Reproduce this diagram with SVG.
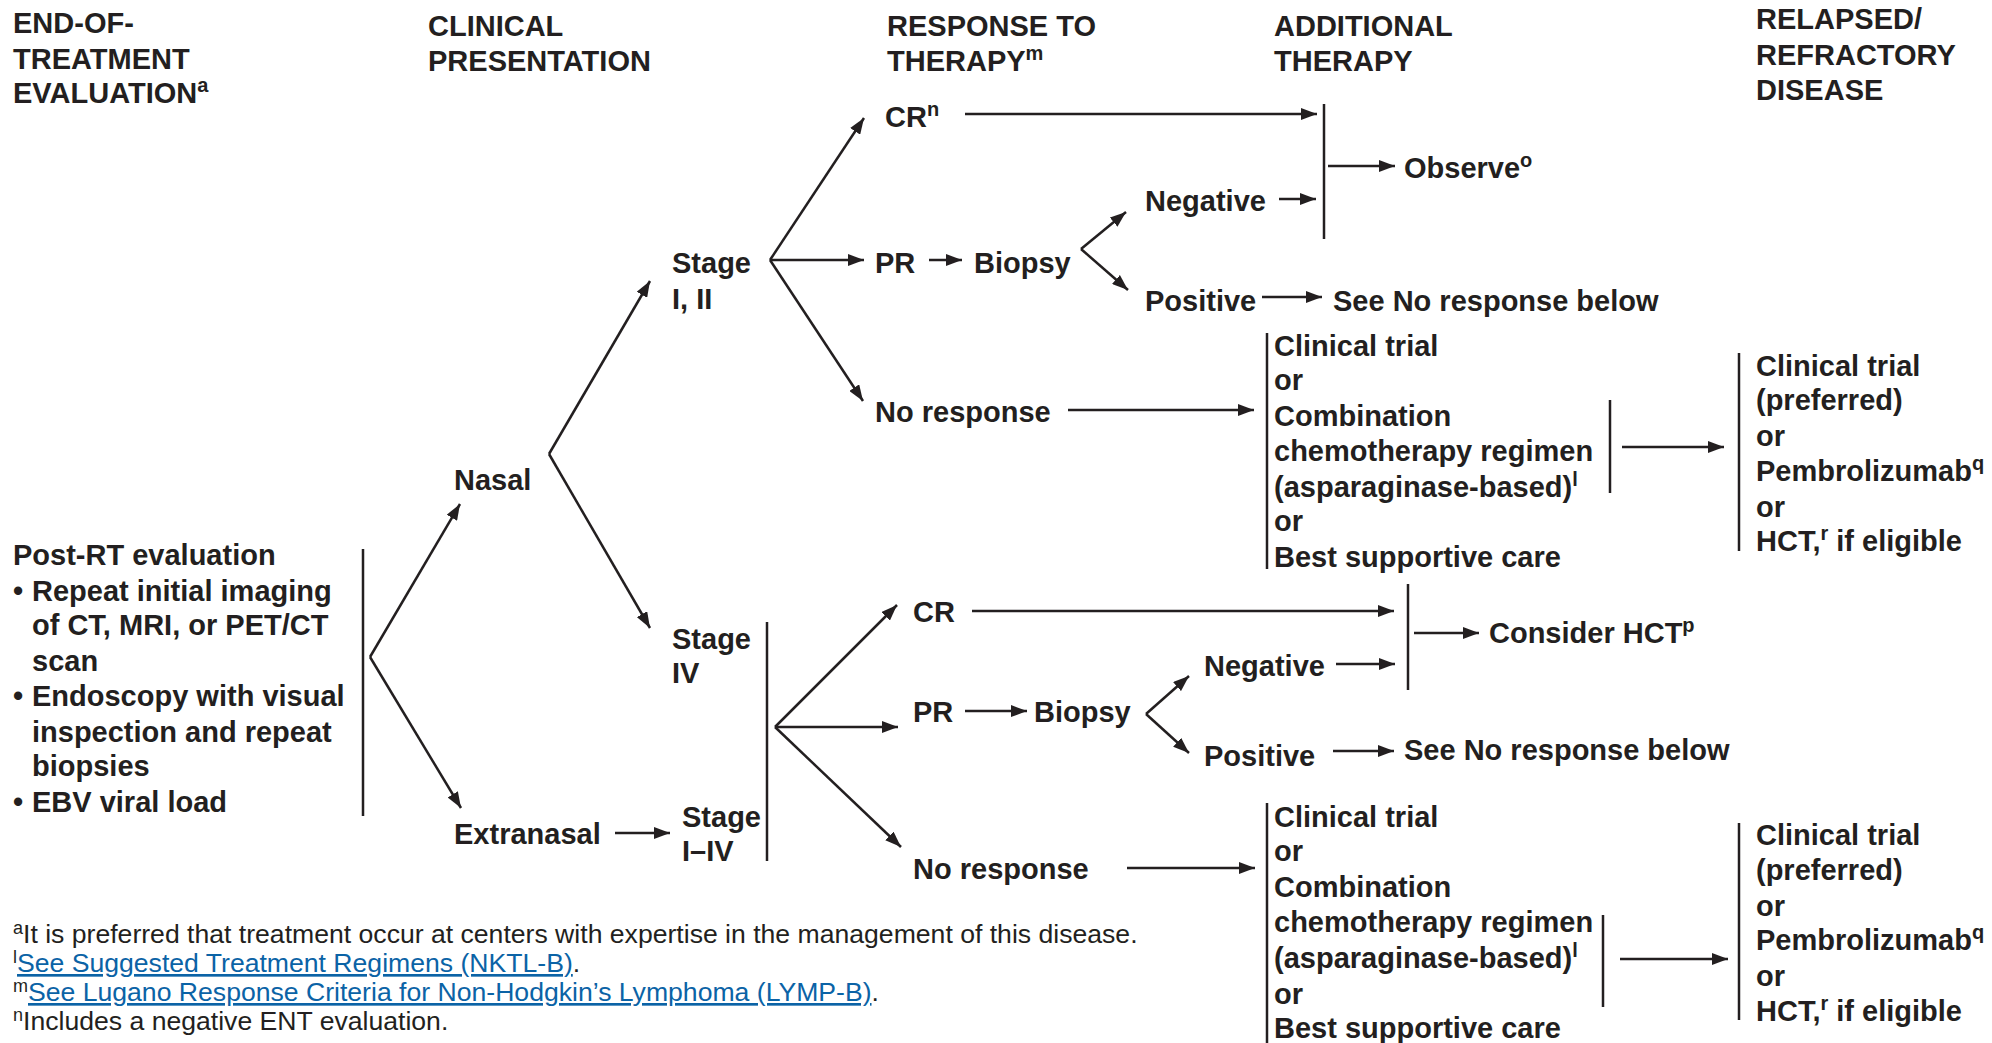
<svg xmlns="http://www.w3.org/2000/svg" width="1992" height="1043" viewBox="0 0 1992 1043">
  <style>
    text { font-family: "Liberation Sans", Arial, sans-serif; fill: #231f20; }
    .b { font-size: 29px; font-weight: bold; }
    .sup { font-size: 20px; }
    .fn { font-size: 26.6px; font-weight: normal; }
    .fns { font-size: 18px; }
    .link { fill: #0b63a6; text-decoration: underline; }
    .ln { stroke: #231f20; stroke-width: 2.5; fill: none; }
    .ar { stroke: #231f20; stroke-width: 2.5; fill: none; marker-end: url(#head); }
  </style>
  <defs>
    <marker id="head" viewBox="0 0 16 12" refX="16" refY="6" markerWidth="16" markerHeight="12" markerUnits="userSpaceOnUse" orient="auto">
      <path d="M0,0 L16,6 L0,12 z" fill="#231f20"/>
    </marker>
  </defs>
  <rect width="1992" height="1043" fill="#ffffff"/>

  <!-- column headings -->
  <g id="hdr-eval" class="b">
    <text x="13" y="33">END-OF-</text>
    <text x="13" y="69">TREATMENT</text>
    <text x="13" y="103">EVALUATION<tspan class="sup" dy="-11">a</tspan></text>
  </g>
  <g id="hdr-clinical" class="b">
    <text x="428" y="36">CLINICAL</text>
    <text x="428" y="71">PRESENTATION</text>
  </g>
  <g id="hdr-response" class="b">
    <text x="887" y="36">RESPONSE TO</text>
    <text x="887" y="71">THERAPY<tspan class="sup" dy="-11">m</tspan></text>
  </g>
  <g id="hdr-additional" class="b">
    <text x="1274" y="36">ADDITIONAL</text>
    <text x="1274" y="71">THERAPY</text>
  </g>
  <g id="hdr-relapsed" class="b">
    <text x="1756" y="29">RELAPSED/</text>
    <text x="1756" y="65">REFRACTORY</text>
    <text x="1756" y="100">DISEASE</text>
  </g>

  <!-- evaluation -->
  <g id="post-rt" class="b">
    <text x="13" y="565">Post-RT evaluation</text>
    <text x="13" y="601">•</text><text x="32" y="601">Repeat initial imaging</text>
    <text x="32" y="635">of CT, MRI, or PET/CT</text>
    <text x="32" y="671">scan</text>
    <text x="13" y="706">•</text><text x="32" y="706">Endoscopy with visual</text>
    <text x="32" y="742">inspection and repeat</text>
    <text x="32" y="776">biopsies</text>
    <text x="13" y="812">•</text><text x="32" y="812">EBV viral load</text>
  </g>

  <!-- presentation -->
  <g id="nasal" class="b"><text x="454" y="490">Nasal</text></g>
  <g id="extranasal" class="b"><text x="454" y="844">Extranasal</text></g>
  <g id="stage-1-2" class="b"><text x="672" y="273">Stage</text><text x="672" y="309">I, II</text></g>
  <g id="stage-4" class="b"><text x="672" y="649">Stage</text><text x="672" y="683">IV</text></g>
  <g id="stage-1-4" class="b"><text x="682" y="827">Stage</text><text x="682" y="861">I–IV</text></g>

  <!-- stage I, II responses -->
  <g id="cr-a" class="b"><text x="885" y="127">CR<tspan class="sup" dy="-11">n</tspan></text></g>
  <g id="pr-a" class="b"><text x="875" y="273">PR</text></g>
  <g id="biopsy-a" class="b"><text x="974" y="273">Biopsy</text></g>
  <g id="negative-a" class="b"><text x="1145" y="211">Negative</text></g>
  <g id="positive-a" class="b"><text x="1145" y="311">Positive</text></g>
  <g id="see-below-a" class="b"><text x="1333" y="311">See No response below</text></g>
  <g id="observe" class="b"><text x="1404" y="178">Observe<tspan class="sup" dy="-11">o</tspan></text></g>
  <g id="no-response-a" class="b"><text x="875" y="422">No response</text></g>
  <g id="additional-a" class="b">
    <text x="1274" y="356">Clinical trial</text>
    <text x="1274" y="390">or</text>
    <text x="1274" y="426">Combination</text>
    <text x="1274" y="461">chemotherapy regimen</text>
    <text x="1274" y="497">(asparaginase-based)<tspan class="sup" dy="-11">l</tspan></text>
    <text x="1274" y="531">or</text>
    <text x="1274" y="567">Best supportive care</text>
  </g>
  <g id="relapsed-a" class="b">
    <text x="1756" y="376">Clinical trial</text>
    <text x="1756" y="410">(preferred)</text>
    <text x="1756" y="446">or</text>
    <text x="1756" y="481">Pembrolizumab<tspan class="sup" dy="-11">q</tspan></text>
    <text x="1756" y="517">or</text>
    <text x="1756" y="551">HCT,<tspan class="sup" dy="-11">r</tspan><tspan dy="11"> if eligible</tspan></text>
  </g>

  <!-- stage IV / I–IV responses -->
  <g id="cr-b" class="b"><text x="913" y="622">CR</text></g>
  <g id="pr-b" class="b"><text x="913" y="722">PR</text></g>
  <g id="biopsy-b" class="b"><text x="1034" y="722">Biopsy</text></g>
  <g id="negative-b" class="b"><text x="1204" y="676">Negative</text></g>
  <g id="positive-b" class="b"><text x="1204" y="766">Positive</text></g>
  <g id="see-below-b" class="b"><text x="1404" y="760">See No response below</text></g>
  <g id="consider-hct" class="b"><text x="1489" y="643">Consider HCT<tspan class="sup" dy="-11">p</tspan></text></g>
  <g id="no-response-b" class="b"><text x="913" y="879">No response</text></g>
  <g id="additional-b" class="b">
    <text x="1274" y="827">Clinical trial</text>
    <text x="1274" y="861">or</text>
    <text x="1274" y="897">Combination</text>
    <text x="1274" y="932">chemotherapy regimen</text>
    <text x="1274" y="968">(asparaginase-based)<tspan class="sup" dy="-11">l</tspan></text>
    <text x="1274" y="1004">or</text>
    <text x="1274" y="1038">Best supportive care</text>
  </g>
  <g id="relapsed-b" class="b">
    <text x="1756" y="845">Clinical trial</text>
    <text x="1756" y="880">(preferred)</text>
    <text x="1756" y="916">or</text>
    <text x="1756" y="950">Pembrolizumab<tspan class="sup" dy="-11">q</tspan></text>
    <text x="1756" y="986">or</text>
    <text x="1756" y="1021">HCT,<tspan class="sup" dy="-11">r</tspan><tspan dy="11"> if eligible</tspan></text>
  </g>

  <!-- connectors and brackets -->
  <g id="connectors">
    <!-- evaluation fork -->
    <line class="ln" x1="363" y1="549" x2="363" y2="816"/>
    <path class="ar" d="M370,657 L460,504"/>
    <path class="ar" d="M370,657 L461,808"/>
    <!-- nasal fork -->
    <path class="ar" d="M549,454 L650,281"/>
    <path class="ar" d="M549,454 L650,628"/>
    <!-- extranasal -->
    <path class="ar" d="M615,833 L670,833"/>
    <!-- stage I, II fork -->
    <path class="ar" d="M770,260 L864,118"/>
    <path class="ar" d="M770,260 L864,260"/>
    <path class="ar" d="M770,260 L863,401"/>
    <path class="ar" d="M965,114 L1317,114"/>
    <path class="ar" d="M929,260 L962,260"/>
    <path class="ar" d="M1081,249 L1126,212"/>
    <path class="ar" d="M1081,249 L1128,290"/>
    <path class="ar" d="M1279,199 L1316,199"/>
    <line class="ln" x1="1324" y1="104" x2="1324" y2="239"/>
    <path class="ar" d="M1328,166 L1395,166"/>
    <path class="ar" d="M1262,297 L1322,297"/>
    <path class="ar" d="M1068,410 L1254,410"/>
    <line class="ln" x1="1267" y1="333" x2="1267" y2="569"/>
    <line class="ln" x1="1610" y1="400" x2="1610" y2="493"/>
    <path class="ar" d="M1622,447 L1724,447"/>
    <line class="ln" x1="1739" y1="353" x2="1739" y2="551"/>
    <!-- stage IV / I–IV fork -->
    <line class="ln" x1="767" y1="622" x2="767" y2="861"/>
    <path class="ar" d="M775,727 L897,605"/>
    <path class="ar" d="M775,727 L898,727"/>
    <path class="ar" d="M775,727 L901,847"/>
    <path class="ar" d="M972,611 L1394,611"/>
    <path class="ar" d="M965,711 L1027,711"/>
    <path class="ar" d="M1146,714 L1189,676"/>
    <path class="ar" d="M1146,714 L1189,753"/>
    <path class="ar" d="M1336,664 L1395,664"/>
    <line class="ln" x1="1408" y1="584" x2="1408" y2="690"/>
    <path class="ar" d="M1414,633 L1479,633"/>
    <path class="ar" d="M1333,751 L1394,751"/>
    <path class="ar" d="M1127,868 L1255,868"/>
    <line class="ln" x1="1267" y1="803" x2="1267" y2="1043"/>
    <line class="ln" x1="1603" y1="915" x2="1603" y2="1007"/>
    <path class="ar" d="M1620,959 L1728,959"/>
    <line class="ln" x1="1739" y1="823" x2="1739" y2="1020"/>
  </g>

  <!-- footnotes -->
  <g id="footnotes" class="fn">
    <text x="13" y="943"><tspan class="fns" dy="-9">a</tspan><tspan dy="9">It is preferred that treatment occur at centers with expertise in the management of this disease.</tspan></text>
    <text x="13" y="972"><tspan class="fns" dy="-9">l</tspan><tspan dy="9" class="link">See Suggested Treatment Regimens (NKTL-B)</tspan>.</text>
    <text x="13" y="1001"><tspan class="fns" dy="-9">m</tspan><tspan dy="9" class="link">See Lugano Response Criteria for Non-Hodgkin’s Lymphoma (LYMP-B)</tspan>.</text>
    <text x="13" y="1030"><tspan class="fns" dy="-9">n</tspan><tspan dy="9">Includes a negative ENT evaluation.</tspan></text>
  </g>
</svg>
